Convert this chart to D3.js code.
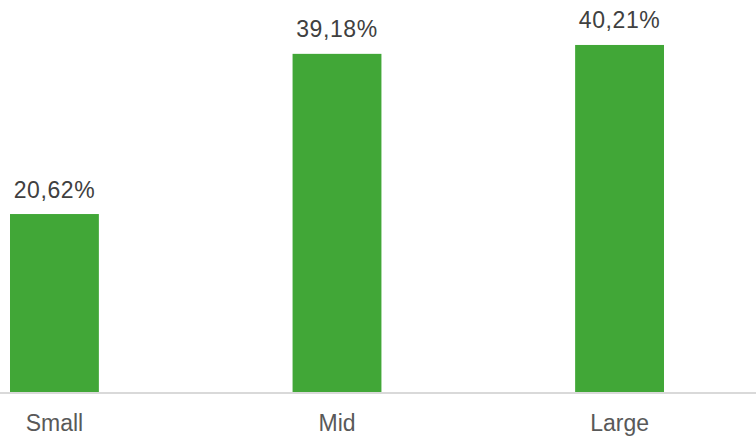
<!DOCTYPE html>
<html>
<head>
<meta charset="utf-8">
<script src="https://cdn.jsdelivr.net/npm/d3@7"></script>
<style>
  html, body { margin: 0; padding: 0; background: #ffffff; }
  svg { display: block; }
</style>
</head>
<body>
<svg id="chart" width="756" height="436"></svg>
<script>
const categories = ["Small", "Mid", "Large"];
const values = [20.62, 39.18, 40.21];
const valueLabels = ["20,62%", "39,18%", "40,21%"];

const svg = d3.select("#chart");
const baseline = 392;

const x = d3.scaleBand()
  .domain(categories)
  .range([10, 664])
  .paddingInner(0.6855)
  .paddingOuter(0);

const y = d3.scaleLinear()
  .domain([0, 45.42])
  .range([baseline, 0]);

svg.selectAll("rect.bar")
  .data(values)
  .join("rect")
  .attr("class", "bar")
  .attr("x", (d, i) => x(categories[i]))
  .attr("width", x.bandwidth())
  .attr("y", d => y(d))
  .attr("height", d => baseline - y(d))
  .attr("fill", "#41a737");

const xAxis = d3.axisBottom(x).tickSize(0).tickPadding(22);
const axisG = svg.append("g")
  .attr("transform", `translate(0,${baseline})`)
  .call(xAxis);
axisG.select(".domain").remove();
axisG.selectAll("text")
  .attr("font-family", "Liberation Sans, Arial, sans-serif")
  .attr("font-size", 23)
  .attr("fill", "#595959")
  .attr("dy", 0)
  .attr("y", 38.7);

svg.append("line")
  .attr("x1", 0).attr("x2", 756)
  .attr("y1", baseline + 1).attr("y2", baseline + 1)
  .attr("stroke", "#d9d9d9")
  .attr("stroke-width", 2);

svg.selectAll("text.val")
  .data(values)
  .join("text")
  .attr("class", "val")
  .attr("x", (d, i) => x(categories[i]) + x.bandwidth() / 2)
  .attr("y", d => y(d) - 16.5)
  .attr("text-anchor", "middle")
  .attr("font-family", "Liberation Sans, Arial, sans-serif")
  .attr("font-size", 23)
  .attr("letter-spacing", 0.6)
  .attr("fill", "#404040")
  .text((d, i) => valueLabels[i]);
</script>
</body>
</html>
